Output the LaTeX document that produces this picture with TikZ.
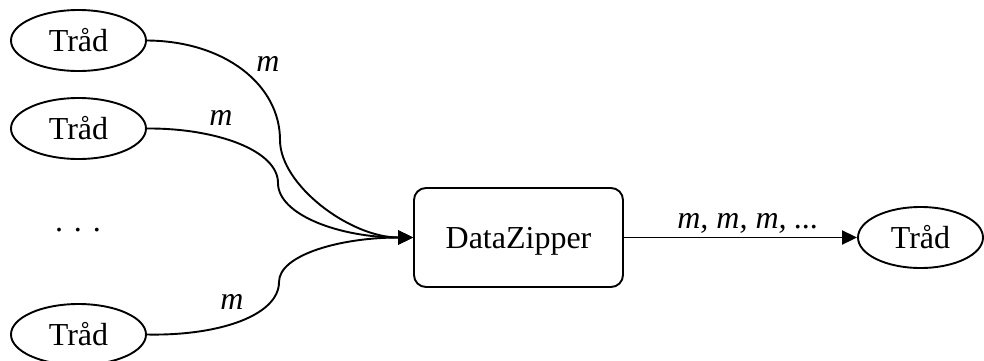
\documentclass[tikz,border=0pt]{standalone}
\usepackage{fontspec}
\setmainfont{Liberation Serif}
\usetikzlibrary{arrows.meta,shapes.geometric}

\begin{document}
\begin{tikzpicture}[
  x=0.5pt, y=-0.5pt,
  every node/.style={font=\fontsize{16pt}{19pt}\selectfont},
  trad/.style={draw, ellipse, line width=0.95pt, inner sep=0pt,
    minimum width=67.5pt, minimum height=30.5pt},
  zipper/.style={draw, rounded corners=6pt, line width=0.95pt, inner sep=0pt,
    text depth=0pt, minimum width=104.5pt, minimum height=49.5pt},
  lbl/.style={inner sep=0pt, font=\fontsize{16pt}{19pt}\selectfont\itshape},
  arr/.style={-{Triangle[length=7.5pt,width=7pt]}, line width=0.95pt},
]
\useasboundingbox (0,0) rectangle (984,360);

\node[trad]   at ( 78.5,  40.5) (t1)   {Tråd};
\node[trad]   at ( 78.5, 128.5) (t2)   {Tråd};
\node[anchor=base] at (78, 231) (dots) {.\hspace{5.5pt}.\hspace{5.5pt}.};
\node[trad]   at ( 78.5, 334.5) (t3)   {Tråd};
\node[zipper] at (518.5, 237.5) (dz)   {DataZipper};
\node[trad, minimum width=62.5pt] at (920.5, 237.5) (ut) {Tråd};

\node[lbl] at (268,  64) (m1) {m};
\node[lbl] at (221, 118) (m2) {m};
\node[lbl] at (232, 302) (m3) {m};
\node[lbl, anchor=base] at (748, 228) (mm) {m, m, m, ...};

\draw[arr] (t1.east) .. controls (225,41) and (280,85) .. (280,140)
  .. controls (280,185) and (350,237.5) .. (dz.west);
\draw[arr] (t2.east) .. controls (215,128) and (278,150) .. (278,183)
  .. controls (278,215) and (340,237.5) .. (dz.west);
\draw[arr] (t3.east) .. controls (220,336) and (279,315) .. (279,282)
  .. controls (279,255) and (340,237.5) .. (dz.west);
\draw[arr] (dz.east) -- (ut.west);
\end{tikzpicture}
\end{document}
